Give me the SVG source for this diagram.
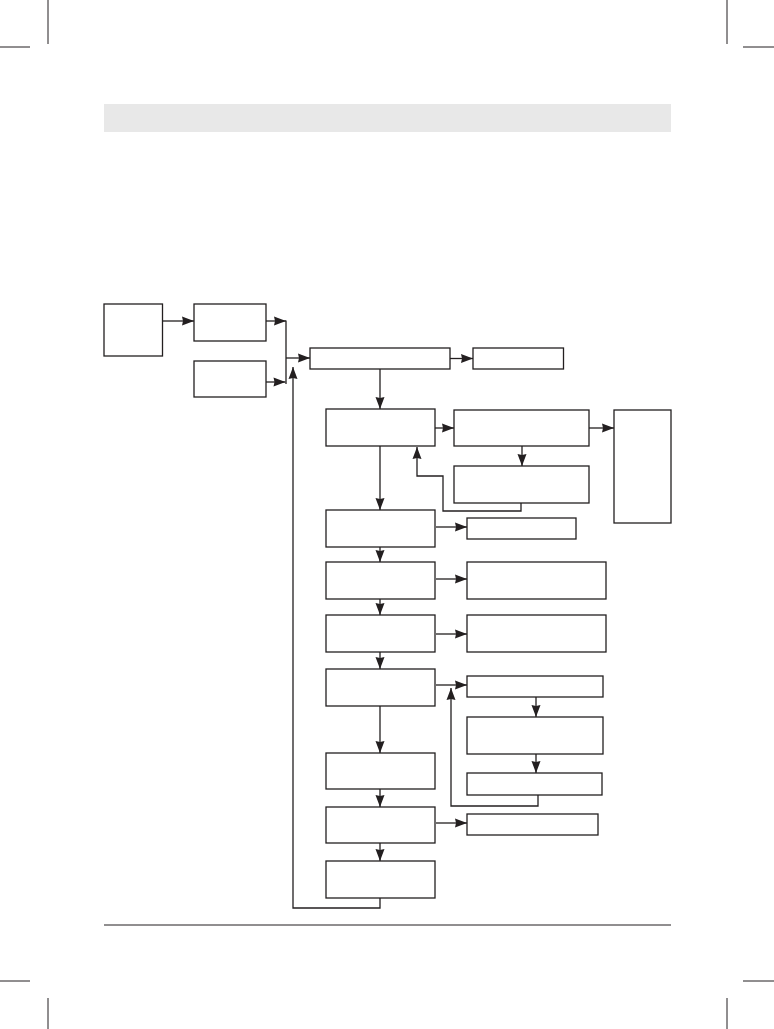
<svg xmlns="http://www.w3.org/2000/svg" width="774" height="1029" viewBox="0 0 774 1029">
<style>
.b{fill:#fff;stroke:#231f20;stroke-width:1.3}
.c{fill:none;stroke:#231f20;stroke-width:1.3}
.m{fill:none;stroke:#231f20;stroke-width:1}
</style>
<defs>
<marker id="ah" markerUnits="userSpaceOnUse" markerWidth="14" markerHeight="10" refX="12" refY="4.5" orient="auto" overflow="visible">
<path d="M0,0 L12,4.5 L0,9 L1,4.5 z" fill="#231f20"/>
</marker>
</defs>
<rect width="774" height="1029" fill="#fff"/>
<g id="page">
<rect x="104" y="104" width="567" height="28" fill="#e8e8e8"/>
<line class="m" x1="104" y1="925" x2="671" y2="925"/>
<path class="m" d="M48,0 V44 M0,47 H30 M727,0 V44 M743,47 H774 M0,981 H30 M48,998 V1029 M743,981 H774 M727,998 V1029"/>
</g>
<g id="A"><rect class="b" x="104" y="304" width="58.5" height="52"/></g>
<g id="B"><rect class="b" x="194" y="304" width="72" height="37"/></g>
<g id="C"><rect class="b" x="194" y="361" width="72" height="36"/></g>
<g id="D"><rect class="b" x="310" y="348" width="140" height="21"/></g>
<g id="E"><rect class="b" x="473" y="348" width="90.5" height="21"/></g>
<g id="F"><rect class="b" x="326" y="409" width="109" height="37"/></g>
<g id="G"><rect class="b" x="454" y="410" width="135" height="36"/></g>
<g id="H"><rect class="b" x="614" y="410" width="57" height="113"/></g>
<g id="I"><rect class="b" x="454" y="466" width="135" height="37"/></g>
<g id="J"><rect class="b" x="326" y="510" width="109" height="37"/></g>
<g id="K"><rect class="b" x="467" y="518" width="109" height="21"/></g>
<g id="L"><rect class="b" x="326" y="562" width="109" height="37"/></g>
<g id="M"><rect class="b" x="467" y="562" width="139" height="37"/></g>
<g id="N"><rect class="b" x="326" y="615" width="109" height="37"/></g>
<g id="O"><rect class="b" x="467" y="615" width="139" height="37"/></g>
<g id="P"><rect class="b" x="326" y="669" width="109" height="37"/></g>
<g id="Q"><rect class="b" x="467" y="676" width="136" height="21"/></g>
<g id="R"><rect class="b" x="467" y="717" width="136" height="37"/></g>
<g id="S"><rect class="b" x="467" y="773" width="135" height="22"/></g>
<g id="T"><rect class="b" x="326" y="753" width="109" height="36"/></g>
<g id="U"><rect class="b" x="326" y="807" width="109" height="36"/></g>
<g id="V"><rect class="b" x="467" y="814" width="131" height="21"/></g>
<g id="W"><rect class="b" x="326" y="861" width="109" height="37"/></g>
<g id="connectors">
<path class="c" d="M162.5,321 H194" marker-end="url(#ah)"/>
<path class="c" d="M266,321 H286" marker-end="url(#ah)"/>
<path class="c" d="M266,382 H285.5" marker-end="url(#ah)"/>
<path class="c" d="M286,320.5 V384"/>
<path class="c" d="M286,358 H310" marker-end="url(#ah)"/>
<path class="c" d="M380,898 V908 H293 V367" marker-end="url(#ah)"/>
<path class="c" d="M450,358.5 H473" marker-end="url(#ah)"/>
<path class="c" d="M380,369 V409" marker-end="url(#ah)"/>
<path class="c" d="M435,428 H454" marker-end="url(#ah)"/>
<path class="c" d="M589,428 H614" marker-end="url(#ah)"/>
<path class="c" d="M522,446 V466" marker-end="url(#ah)"/>
<path class="c" d="M521,503 V511 H443 V476 H417 V447" marker-end="url(#ah)"/>
<path class="c" d="M380,446 V510" marker-end="url(#ah)"/>
<path class="c" d="M436,527 H467" marker-end="url(#ah)"/>
<path class="c" d="M380,547 V562" marker-end="url(#ah)"/>
<path class="c" d="M436,579 H467" marker-end="url(#ah)"/>
<path class="c" d="M380,599 V615" marker-end="url(#ah)"/>
<path class="c" d="M436,634 H467" marker-end="url(#ah)"/>
<path class="c" d="M380,652 V669" marker-end="url(#ah)"/>
<path class="c" d="M436,685 H467" marker-end="url(#ah)"/>
<path class="c" d="M536,697 V717" marker-end="url(#ah)"/>
<path class="c" d="M536,754 V773" marker-end="url(#ah)"/>
<path class="c" d="M538,795 V806 H451 V688" marker-end="url(#ah)"/>
<path class="c" d="M380,706 V753" marker-end="url(#ah)"/>
<path class="c" d="M380,789 V807" marker-end="url(#ah)"/>
<path class="c" d="M436,823 H467" marker-end="url(#ah)"/>
<path class="c" d="M380,843 V861" marker-end="url(#ah)"/>
</g>
</svg>
